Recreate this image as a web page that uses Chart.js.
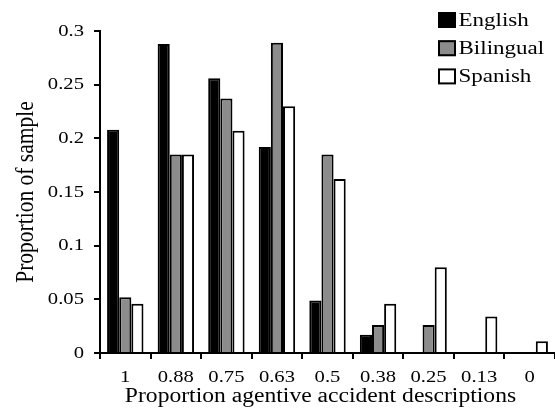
<!DOCTYPE html>
<html>
<head>
<meta charset="utf-8">
<script src="https://cdn.jsdelivr.net/npm/chart.js@4/dist/chart.umd.min.js"></script>
<style>
  html, body { margin: 0; padding: 0; background: #fff; }
  #wrap { width: 555px; height: 409px; }
</style>
</head>
<body>
<div id="wrap"><canvas id="c" width="555" height="409"></canvas></div>
<script>
const categories = ["1", "0.88", "0.75", "0.63", "0.5", "0.38", "0.25", "0.13", "0"];
const english   = [0.208, 0.288, 0.256, 0.192, 0.049, 0.017, 0, 0, 0];
const bilingual = [0.052, 0.185, 0.237, 0.289, 0.185, 0.026, 0.026, 0, 0];
const spanish   = [0.046, 0.185, 0.207, 0.230, 0.162, 0.046, 0.080, 0.034, 0.011];
const yTicks = [0, 0.05, 0.1, 0.15, 0.2, 0.25, 0.3];
const yTickLabels = ["0", "0.05", "0.1", "0.15", "0.2", "0.25", "0.3"];

const FONT = "'Liberation Serif', 'Times New Roman', serif";
const SX = 1.18; // horizontal text stretch seen in the reference

const canvas = document.getElementById('c');
const ctx0 = canvas.getContext('2d');
(function patch(ctx) {
  const orig = CanvasRenderingContext2D.prototype.fillText;
  ctx.fillText = function (text, x, y, maxWidth) {
    const m = this.getTransform();
    const p = m.transformPoint(new DOMPoint(x, y));
    const s = new DOMMatrix().translate(p.x, p.y).scale(SX, 1).translate(-p.x, -p.y).multiply(m);
    this.save();
    this.setTransform(s);
    if (maxWidth !== undefined) orig.call(this, text, x, y, maxWidth);
    else orig.call(this, text, x, y);
    this.restore();
  };
})(ctx0);

const legendPlugin = {
  id: 'customLegend',
  afterDraw(chart) {
    const ctx = chart.ctx;
    ctx.save();
    chart.data.datasets.forEach((ds, i) => {
      const base = 26 + i * 28.2;
      ctx.fillStyle = ds.backgroundColor;
      ctx.fillRect(438, base - 14, 18, 16);
      ctx.strokeStyle = '#000';
      ctx.lineWidth = 2;
      ctx.strokeRect(439, base - 13, 16, 14);
      ctx.fillStyle = '#000';
      ctx.font = "19.5px " + FONT;
      ctx.textAlign = 'left';
      ctx.textBaseline = 'alphabetic';
      ctx.fillText(ds.label, 458.5, base);
    });
    // x-axis title
    ctx.font = "20px " + FONT;
    ctx.textAlign = 'center';
    ctx.textBaseline = 'alphabetic';
    ctx.fillText('Proportion agentive accident descriptions', 320.5, 402);
    ctx.restore();
  }
};

new Chart(canvas, {
  type: 'bar',
  data: {
    labels: categories,
    datasets: [
      { label: 'English', data: english, backgroundColor: '#000000', borderColor: '#000000', borderWidth: 2 },
      { label: 'Bilingual', data: bilingual, backgroundColor: '#8c8c8c', borderColor: '#000000', borderWidth: 2 },
      { label: 'Spanish', data: spanish, backgroundColor: '#ffffff', borderColor: '#000000', borderWidth: 2 }
    ]
  },
  options: {
    responsive: false,
    animation: false,
    devicePixelRatio: 1,
    layout: { padding: { top: 31, right: 0, bottom: 0, left: 0 } },
    datasets: { bar: { categoryPercentage: 0.72, barPercentage: 1.0 } },
    plugins: { legend: { display: false }, tooltip: { enabled: false } },
    scales: {
      x: {
        grid: { display: true, drawOnChartArea: false, drawTicks: true, tickLength: 6, color: '#000', lineWidth: 2, offset: true },
        border: { display: true, color: '#000', width: 2 },
        ticks: { color: '#000', font: { family: FONT, size: 17.5 }, padding: 8, maxRotation: 0, autoSkip: false },
        title: { display: false },
        afterFit(scale) { scale.height = 56; }
      },
      y: {
        min: 0, max: 0.3,
        afterBuildTicks(scale) { scale.ticks = yTicks.map(v => ({ value: v })); },
        grid: { display: true, drawOnChartArea: false, drawTicks: true, tickLength: 6, color: '#000', lineWidth: 2 },
        border: { display: true, color: '#000', width: 2 },
        ticks: {
          color: '#000', font: { family: FONT, size: 17.5 }, padding: 10,
          callback(value) { const i = yTicks.indexOf(value); return i >= 0 ? yTickLabels[i] : ''; }
        },
        title: { display: true, text: 'Proportion of sample', color: '#000', font: { family: FONT, size: 21.5 }, padding: { top: 13, bottom: 0 } },
        afterFit(scale) { scale.width = 100; }
      }
    }
  },
  plugins: [legendPlugin]
});
</script>
</body>
</html>
